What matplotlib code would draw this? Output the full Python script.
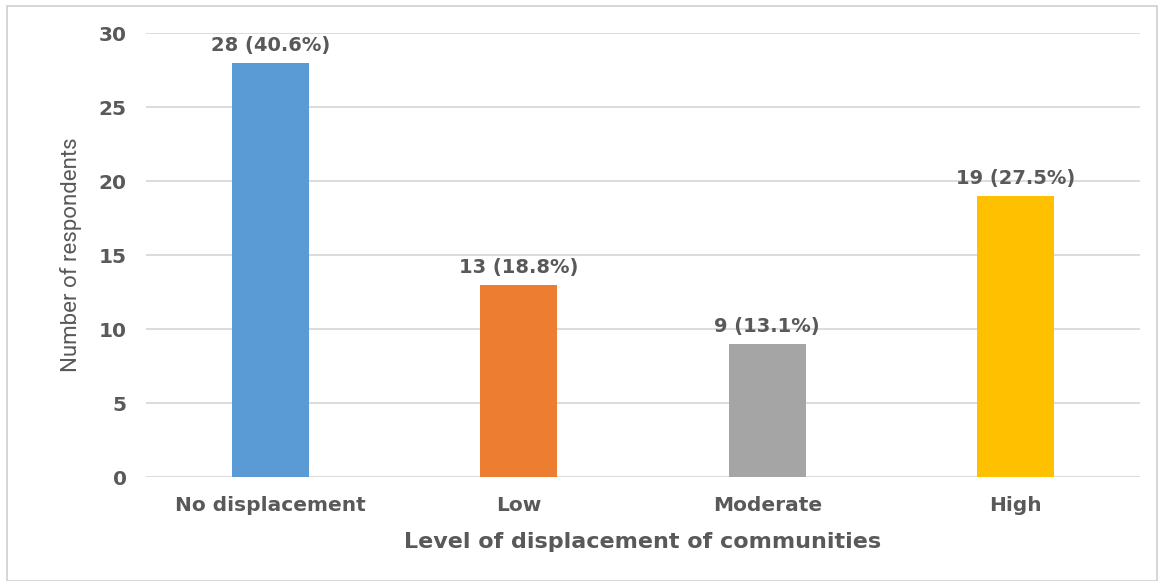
import matplotlib.pyplot as plt
from matplotlib.patches import Rectangle

# ========== Data ========== #
levels   = ["No displacement", "Low", "Moderate", "High"]
counts   = [28, 13, 9, 19]
percents = [40.6, 18.8, 13.1, 27.5]
colours  = ["#5B9BD5", "#ED7D31", "#A5A5A5", "#FFC000"]

TEXT = "#595959"
GRID = "#D9D9D9"

fig = plt.figure(figsize=(11.68, 5.81), dpi=100)
ax = fig.add_axes([0.125, 0.179, 0.851, 0.764])

# light frame round the whole chart area
fig.patches.append(Rectangle((0.006, 0.0), 0.985, 0.99, transform=fig.transFigure,
                             fill=False, edgecolor="#D0D0D0", linewidth=1.2))

xs = range(len(levels))
bars = ax.bar(xs, counts, width=0.31, color=colours, zorder=3)

for bar, n, p in zip(bars, counts, percents):
    ax.text(bar.get_x() + bar.get_width() / 2, n + 0.5, f"{n} ({p}%)",
            ha="center", va="bottom", fontsize=14, fontweight="bold", color=TEXT)

ax.set_xlim(-0.5, len(levels) - 0.5)
ax.set_ylim(0, 30)
ax.set_yticks(range(0, 31, 5))
ax.set_xticks(list(xs))
ax.set_xticklabels(levels)

ax.yaxis.grid(True, color=GRID, linewidth=1.3, zorder=0)
ax.set_axisbelow(True)
for s in ax.spines.values():
    s.set_visible(False)
ax.tick_params(axis="both", length=0, colors=TEXT, labelsize=14.5)
ax.tick_params(axis="y", pad=14)
ax.tick_params(axis="x", pad=14)
for lab in ax.get_xticklabels() + ax.get_yticklabels():
    lab.set_fontweight("bold")

ax.set_xlabel("Level of displacement of communities", fontsize=16,
              fontweight="bold", color=TEXT, labelpad=12)
ax.set_ylabel("Number of respondents", fontsize=16, family="Roboto",
              color=TEXT, labelpad=12)

fig.savefig("out.png", dpi=100)
